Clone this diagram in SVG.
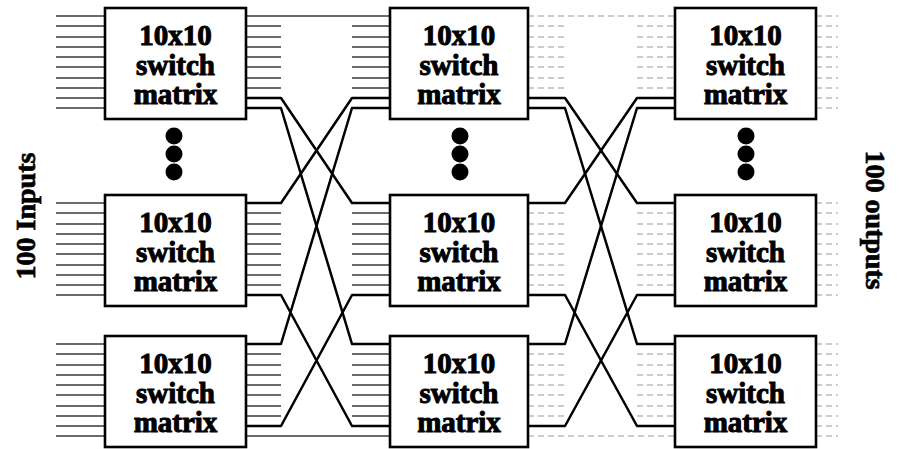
<svg xmlns="http://www.w3.org/2000/svg" width="901" height="449" viewBox="0 0 901 449">
  <style>
    .box { fill: #fff; stroke: #000; stroke-width: 2.6; }
    .lbl { font-family: "Liberation Serif", "Times New Roman", serif; font-weight: bold; font-size: 29px; fill: #000; stroke: #000; stroke-width: 1; text-anchor: middle; }
    .side { font-family: "Liberation Serif", "Times New Roman", serif; font-weight: bold; font-size: 28px; fill: #000; stroke: #000; stroke-width: 0.7; text-anchor: middle; }
    .stub { fill: none; stroke: #3a3a3a; stroke-width: 1.6; }
    .stub-faint { fill: none; stroke: #9a9a9a; stroke-width: 1.2; stroke-dasharray: 6 4; }
    .link { fill: none; stroke: #000; stroke-width: 2.5; stroke-linejoin: round; }
    .dot { fill: #000; }
  </style>

  <!-- side labels -->
  <text class="side" transform="translate(35,216) rotate(-90)">100 Inputs</text>
  <text class="side" transform="translate(866,220) rotate(90)">100 outputs</text>

  <!-- connectors: port stubs and inter-stage wiring -->
  <g id="connectors">
    <!-- inputs into stage 1 -->
    <path class="stub" d="M56,16H105M56,26H105M56,37H105M56,47H105M56,57H105M56,67H105M56,78H105M56,88H105M56,98H105M56,108H105
      M56,203H105M56,213H105M56,224H105M56,234H105M56,244H105M56,254H105M56,265H105M56,275H105M56,285H105M56,295H105
      M56,344H105M56,354H105M56,365H105M56,375H105M56,385H105M56,395H105M56,406H105M56,416H105M56,426H105M56,436H105"/>

    <!-- stage 1 -> stage 2 stubs -->
    <path class="stub" d="M246,26H281M246,37H281M246,47H281M246,57H281M246,67H281M246,78H281M246,88H281
      M246,213H281M246,224H281M246,234H281M246,244H281M246,254H281M246,265H281M246,275H281M246,285H281
      M246,354H281M246,365H281M246,375H281M246,385H281M246,395H281M246,406H281M246,416H281"/>
    <path class="stub" d="M352,26H390M352,37H390M352,47H390M352,57H390M352,67H390M352,78H390M352,88H390
      M352,213H390M352,224H390M352,234H390M352,244H390M352,254H390M352,265H390M352,275H390M352,285H390
      M352,354H390M352,365H390M352,375H390M352,385H390M352,395H390M352,406H390M352,416H390"/>
    <path class="stub" d="M246,16H390M246,436H390"/>
    <path class="link" d="M246,98H281L352,203H390"/>
    <path class="link" d="M246,203H281L352,98H390"/>
    <path class="link" d="M246,108H281L352,344H390"/>
    <path class="link" d="M246,344H281L352,108H390"/>
    <path class="link" d="M246,295H281L352,426H390"/>
    <path class="link" d="M246,426H281L352,295H390"/>

    <!-- stage 2 -> stage 3 stubs -->
    <path class="stub-faint" d="M528,26H565M528,37H565M528,47H565M528,57H565M528,67H565M528,78H565M528,88H565
      M528,213H565M528,224H565M528,234H565M528,244H565M528,254H565M528,265H565M528,275H565M528,285H565
      M528,354H565M528,365H565M528,375H565M528,385H565M528,395H565M528,406H565M528,416H565"/>
    <path class="stub-faint" d="M637,26H675M637,37H675M637,47H675M637,57H675M637,67H675M637,78H675M637,88H675
      M637,213H675M637,224H675M637,234H675M637,244H675M637,254H675M637,265H675M637,275H675M637,285H675
      M637,354H675M637,365H675M637,375H675M637,385H675M637,395H675M637,406H675M637,416H675"/>
    <path class="stub-faint" d="M528,16H675M528,436H675"/>
    <path class="link" d="M528,98H565L637,203H675"/>
    <path class="link" d="M528,203H565L637,98H675"/>
    <path class="link" d="M528,108H565L637,344H675"/>
    <path class="link" d="M528,344H565L637,108H675"/>
    <path class="link" d="M528,295H565L637,426H675"/>
    <path class="link" d="M528,426H565L637,295H675"/>

    <!-- outputs from stage 3 -->
    <path class="stub-faint" d="M816,16H838M816,26H838M816,37H838M816,47H838M816,57H838M816,67H838M816,78H838M816,88H838M816,98H838M816,108H838
      M816,203H838M816,213H838M816,224H838M816,234H838M816,244H838M816,254H838M816,265H838M816,275H838M816,285H838M816,295H838
      M816,344H838M816,354H838M816,365H838M816,375H838M816,385H838M816,395H838M816,406H838M816,416H838M816,426H838M816,436H838"/>
  </g>

  <!-- stage 1 -->
  <g id="s1-top">
    <rect class="box" x="105" y="8" width="141" height="111"/>
    <text class="lbl" x="175.5" y="45">10x10</text>
    <text class="lbl" x="175.5" y="75">switch</text>
    <text class="lbl" x="175.5" y="104">matrix</text>
  </g>
  <g id="s1-dots">
    <circle class="dot" cx="174" cy="136" r="8.5"/>
    <circle class="dot" cx="174" cy="154" r="8.5"/>
    <circle class="dot" cx="174" cy="172" r="8.5"/>
  </g>
  <g id="s1-mid">
    <rect class="box" x="105" y="195" width="141" height="111"/>
    <text class="lbl" x="175.5" y="232">10x10</text>
    <text class="lbl" x="175.5" y="262">switch</text>
    <text class="lbl" x="175.5" y="291">matrix</text>
  </g>
  <g id="s1-bot">
    <rect class="box" x="105" y="336" width="141" height="111"/>
    <text class="lbl" x="175.5" y="373">10x10</text>
    <text class="lbl" x="175.5" y="403">switch</text>
    <text class="lbl" x="175.5" y="432">matrix</text>
  </g>

  <!-- stage 2 -->
  <g id="s2-top">
    <rect class="box" x="390" y="8" width="138" height="111"/>
    <text class="lbl" x="459" y="45">10x10</text>
    <text class="lbl" x="459" y="75">switch</text>
    <text class="lbl" x="459" y="104">matrix</text>
  </g>
  <g id="s2-dots">
    <circle class="dot" cx="460" cy="136" r="8.5"/>
    <circle class="dot" cx="460" cy="154" r="8.5"/>
    <circle class="dot" cx="460" cy="172" r="8.5"/>
  </g>
  <g id="s2-mid">
    <rect class="box" x="390" y="195" width="138" height="111"/>
    <text class="lbl" x="459" y="232">10x10</text>
    <text class="lbl" x="459" y="262">switch</text>
    <text class="lbl" x="459" y="291">matrix</text>
  </g>
  <g id="s2-bot">
    <rect class="box" x="390" y="336" width="138" height="111"/>
    <text class="lbl" x="459" y="373">10x10</text>
    <text class="lbl" x="459" y="403">switch</text>
    <text class="lbl" x="459" y="432">matrix</text>
  </g>

  <!-- stage 3 -->
  <g id="s3-top">
    <rect class="box" x="675" y="8" width="141" height="111"/>
    <text class="lbl" x="745.5" y="45">10x10</text>
    <text class="lbl" x="745.5" y="75">switch</text>
    <text class="lbl" x="745.5" y="104">matrix</text>
  </g>
  <g id="s3-dots">
    <circle class="dot" cx="746" cy="136" r="8.5"/>
    <circle class="dot" cx="746" cy="154" r="8.5"/>
    <circle class="dot" cx="746" cy="172" r="8.5"/>
  </g>
  <g id="s3-mid">
    <rect class="box" x="675" y="195" width="141" height="111"/>
    <text class="lbl" x="745.5" y="232">10x10</text>
    <text class="lbl" x="745.5" y="262">switch</text>
    <text class="lbl" x="745.5" y="291">matrix</text>
  </g>
  <g id="s3-bot">
    <rect class="box" x="675" y="336" width="141" height="111"/>
    <text class="lbl" x="745.5" y="373">10x10</text>
    <text class="lbl" x="745.5" y="403">switch</text>
    <text class="lbl" x="745.5" y="432">matrix</text>
  </g>
</svg>
